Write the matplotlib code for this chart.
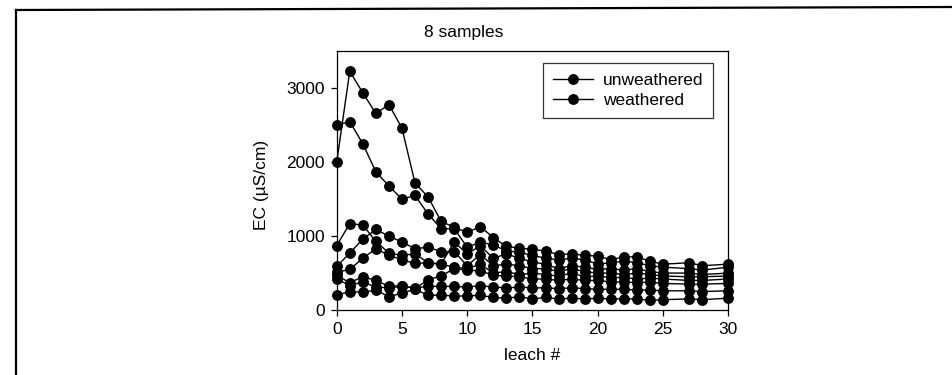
"""
EC vs leach number for 8 samples (scanned chart redraw).
"""
import matplotlib
matplotlib.use("Agg")
import matplotlib.pyplot as plt
from matplotlib.lines import Line2D

plt.rcParams["font.family"] = ["Liberation Sans", "DejaVu Sans"]

# leach numbers (no readings at 26 and 29)
leach = list(range(0, 26)) + [27, 28, 30]

# EC in uS/cm
s1 = [2000, 3230, 2940, 2660, 2780, 2460, 1720, 1530, 1200, 1120, 1050, 1130, 980, 860,
      840, 820, 800, 750, 760, 740, 730, 680, 720, 720, 660, 620, 640, 600, 620]
s2 = [2500, 2550, 2250, 1870, 1680, 1500, 1550, 1300, 1100, 1100, 850, 920, 880, 800,
      780, 740, 700, 680, 700, 680, 620, 640, 660, 640, 600, 580, 560, 540, 580]
s3 = [870, 1170, 1150, 930, 770, 740, 760, 640, 620, 920, 760, 870, 700, 760,
      700, 650, 620, 560, 600, 580, 550, 560, 540, 560, 520, 500, 500, 480, 500]
s4 = [590, 770, 960, 1090, 1000, 920, 830, 850, 790, 790, 600, 750, 600, 620,
      600, 560, 560, 520, 560, 520, 500, 500, 480, 500, 480, 460, 450, 450, 460]
s5 = [510, 550, 700, 830, 740, 680, 630, 640, 620, 580, 560, 620, 500, 520,
      480, 500, 480, 460, 500, 450, 460, 440, 440, 420, 430, 420, 400, 400, 420]
s6 = [470, 370, 450, 400, 320, 330, 290, 410, 460, 560, 540, 530, 470, 460,
      450, 420, 420, 400, 420, 400, 400, 380, 380, 370, 380, 360, 350, 350, 360]
s7 = [420, 330, 380, 310, 300, 320, 300, 320, 320, 320, 310, 330, 310, 300,
      310, 300, 300, 290, 300, 290, 280, 280, 280, 270, 270, 260, 260, 250, 260]
s8 = [200, 250, 240, 270, 180, 230, 280, 200, 200, 190, 190, 200, 170, 160,
      180, 150, 170, 150, 160, 150, 160, 150, 150, 150, 130, 140, 150, 140, 160]

series = [s1, s2, s3, s4, s5, s6, s7, s8]
groups = ["unweathered", "weathered", "unweathered", "weathered",
          "unweathered", "weathered", "unweathered", "weathered"]

FS = 12.5

fig = plt.figure(figsize=(9.53, 3.75), dpi=100)
ax = fig.add_axes([0.3533, 0.1733, 0.4109, 0.6896])

seen = set()
for ys, g in zip(series, groups):
    lab = g if g not in seen else None
    seen.add(g)
    ax.plot(leach, ys, color="black", lw=1.0, marker="o", ms=6.8,
            mfc="black", mec="black", label=lab, clip_on=False, zorder=3)

ax.set_xlim(0, 30)
ax.set_ylim(0, 3500)
ax.set_xticks(range(0, 31, 5))
ax.set_yticks([0, 1000, 2000, 3000])
ax.tick_params(direction="out", length=4.5, width=0.9, labelsize=FS, pad=4)
for sp in ax.spines.values():
    sp.set_linewidth(0.9)

ax.set_xlabel("leach #", fontsize=FS, labelpad=8)
fig.text(262 / 953, 1 - 185 / 375, "EC (µS/cm)", rotation=90,
         ha="center", va="center", fontsize=FS)
fig.text(464 / 953, 1 - 32 / 375, "8 samples", ha="center", va="center",
         fontsize=FS)

leg = ax.legend(loc="upper right", bbox_to_anchor=(713 / 953, 1 - 63 / 375),
                bbox_transform=fig.transFigure, fontsize=FS, frameon=True,
                fancybox=False, handlelength=2.3, handletextpad=0.6,
                borderpad=0.55, labelspacing=0.3, borderaxespad=0)
leg.get_frame().set_edgecolor("black")
leg.get_frame().set_linewidth(0.9)

# scanned page frame: left and top edges
fig.add_artist(Line2D([16 / 953, 16 / 953], [0, 1 - 10 / 375],
                      transform=fig.transFigure, color="black", lw=1.6))
fig.add_artist(Line2D([16 / 953, 1], [1 - 10 / 375, 1 - 7 / 375],
                      transform=fig.transFigure, color="black", lw=1.6))

fig.savefig("out.png", dpi=100)
